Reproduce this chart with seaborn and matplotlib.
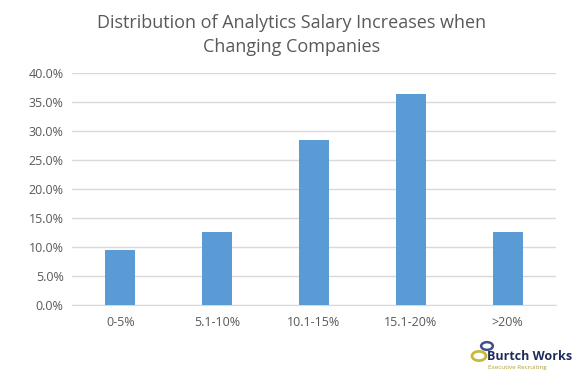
import numpy as np
import matplotlib
matplotlib.use("Agg")
import matplotlib.pyplot as plt
import pandas as pd
import seaborn as sns

categories = ["0-5%", "5.1-10%", "10.1-15%", "15.1-20%", ">20%"]
shares = [9.5, 12.7, 28.5, 36.4, 12.7]

df = pd.DataFrame({"range": categories, "share": shares})

sns.set_style("white")
plt.rcParams["font.family"] = ["Open Sans", "DejaVu Sans"]

fig = plt.figure(figsize=(5.83, 3.85), dpi=100)
ax = fig.add_axes([72 / 583, 1 - 305.3 / 385, (556 - 72) / 583, (305.3 - 73.3) / 385])

sns.barplot(data=df, x="range", y="share", color="#5b9bd5", width=0.31,
            saturation=1, linewidth=0, ax=ax, zorder=3)

ax.set_ylim(0, 40)
ax.set_yticks(np.arange(0, 40.1, 5))
ax.set_yticklabels([f"{v:.1f}%" for v in np.arange(0, 40.1, 5)])
ax.yaxis.grid(True, color="#d9d9d9", linewidth=1, zorder=0)
ax.set_axisbelow(True)
for s in ["top", "right", "left"]:
    ax.spines[s].set_visible(False)
ax.spines["bottom"].set_color("#d9d9d9")
ax.tick_params(axis="both", length=0, labelsize=9, labelcolor="#595959")
ax.tick_params(axis="x", pad=8)
ax.tick_params(axis="y", pad=6)
ax.set_xlabel("")
ax.set_ylabel("")

fig.text(0.5, 1 - 35 / 385, "Distribution of Analytics Salary Increases when\nChanging Companies",
         ha="center", va="center", fontsize=13, color="#595959", linespacing=1.45)

# logo text
fig.text(487 / 583, 1 - 357 / 385, "Burtch Works", ha="left", va="center",
         fontsize=9, fontweight="bold", color="#1f2d5c")
fig.text(488 / 583, 1 - 367 / 385, "Executive Recruiting", ha="left", va="center",
         fontsize=4.5, color="#a8a03c")
fig.patches.append(plt.Circle((479 / 583, 1 - 356 / 385), 0.012, transform=fig.transFigure,
                              fill=False, edgecolor="#c9b93a", linewidth=2))
fig.patches.append(plt.Circle((487 / 583, 1 - 346 / 385), 0.01, transform=fig.transFigure,
                              fill=False, edgecolor="#3f4f8f", linewidth=1.8))

fig.savefig("out.png", dpi=100)
